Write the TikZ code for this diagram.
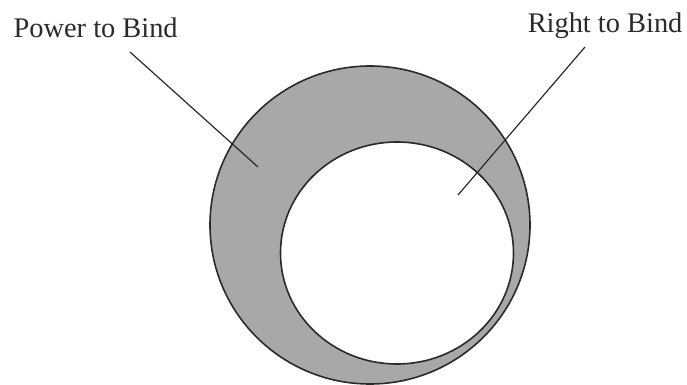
\documentclass[tikz,border=0pt]{standalone}
\usepackage{fontspec}
\setmainfont{Liberation Serif}
\usepackage{xcolor}
\definecolor{ink}{HTML}{2A2A2A}
\definecolor{ringgray}{HTML}{A7A8AA}
\usepackage{tikz}
\usetikzlibrary{shapes.geometric}
\tikzset{
  every picture/.style={line width=0.6pt},
  tag/.style={font=\fontsize{14.2}{16}\selectfont, text=ink, inner sep=0pt},
  ring/.style={ellipse, draw=ink, line width=0.8pt, inner sep=0pt, outer sep=0pt},
  leader/.style={draw=ink, line width=0.6pt},
}
\begin{document}
\begin{tikzpicture}[x=0.5pt, y=-0.5pt]
  \useasboundingbox (0,0) rectangle (687,385);
  % the two sets
  \node[ring, fill=ringgray, minimum width=160pt, minimum height=159pt] (power-set) at (370,225) {};
  \node[ring, fill=white, minimum width=116.5pt, minimum height=111pt] (right-set) at (397,253) {};
  % labels
  \node[tag, anchor=base west] (power) at (13,38) {Power to Bind};
  \node[tag, anchor=base east] (rightbind) at (683,33) {Right to Bind};
  \coordinate (power-foot) at (130,52);
  \coordinate (power-tip) at (258,167);
  \coordinate (right-foot) at (585,47);
  \coordinate (right-tip) at (458,195);
  \draw[leader] (power-foot) -- (power-tip);
  \draw[leader] (right-foot) -- (right-tip);
\end{tikzpicture}
\end{document}
